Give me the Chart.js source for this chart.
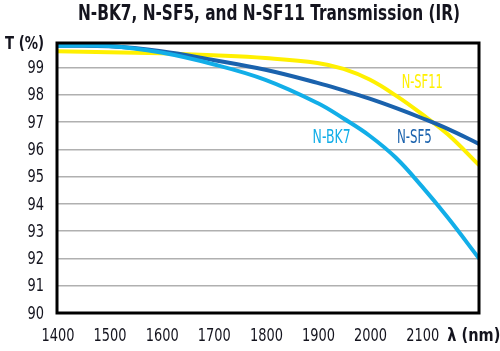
<!DOCTYPE html>
<html>
<head>
<meta charset="utf-8">
<script src="https://cdn.jsdelivr.net/npm/chart.js@4/dist/chart.umd.min.js"></script>
<style>
  html, body { margin: 0; padding: 0; background: #fff; }
  #wrap { width: 500px; height: 351px; }
</style>
</head>
<body>
<div id="wrap"><canvas id="irChart" width="500" height="351"></canvas></div>
<script>
// IR transmission curves of three Schott glasses

const WAVELENGTHS = [1400, 1500, 1600, 1700, 1800, 1900, 1950, 2000, 2050, 2100, 2150, 2210];
const NBK7  = [99.8, 99.79, 99.55, 99.12, 98.55, 97.7, 97.13, 96.5, 95.7, 94.65, 93.5, 92.0];
const NSF5  = [99.8, 99.78, 99.6, 99.28, 98.92, 98.44, 98.16, 97.86, 97.52, 97.15, 96.75, 96.2];
const NSF11 = [99.6, 99.56, 99.52, 99.45, 99.35, 99.17, 98.95, 98.56, 97.98, 97.3, 96.55, 95.42];

const X_TICKS = [1400, 1500, 1600, 1700, 1800, 1900, 2000, 2100, 2200];
const Y_TICKS = [90, 91, 92, 93, 94, 95, 96, 97, 98, 99];

const COLORS = {
  bk7:  "#12aee8",
  sf5:  "#1a62ad",
  sf11: "#fff000",
  text: "#14141e",
  grid: "#b0b0b0",
};

const FONT_FAMILY = "'DejaVu Sans Condensed', 'Liberation Sans', sans-serif";

// text helper: squeeze horizontally (the original uses a very condensed face)
// fit = target width in px, or a scale factor when < 2
function drawText(ctx, text, x, y, font, color, fit, align) {
  ctx.save();
  ctx.font = font;
  ctx.fillStyle = color;
  ctx.textBaseline = "middle";
  ctx.textAlign = "left";
  const w = ctx.measureText(text).width;
  const sx = !fit ? 1 : fit < 2 ? fit : fit / w;
  const left = align === "right" ? x - w * sx : align === "left" ? x : x - (w * sx) / 2;
  ctx.translate(left, y);
  ctx.scale(sx, 1);
  ctx.fillText(text, 0, 0);
  ctx.restore();
}

const decorations = {
  id: "decorations",
  afterDatasetsDraw(chart) {
    const { ctx, chartArea: a, scales } = chart;
    // frame
    ctx.save();
    ctx.strokeStyle = "#000";
    ctx.lineWidth = 3;
    ctx.strokeRect(a.left, a.top, a.right - a.left, a.bottom - a.top);
    ctx.restore();

    const px = v => scales.x.getPixelForValue(v);
    const py = v => scales.y.getPixelForValue(v);

    // series labels
    drawText(ctx, "N-SF11", px(2101), py(98.42), `19px ${FONT_FAMILY}`, COLORS.sf11, 41);
    drawText(ctx, "N-BK7",  px(1927), py(96.4),  `19px ${FONT_FAMILY}`, COLORS.bk7, 38);
    drawText(ctx, "N-SF5",  px(2086), py(96.4),  `19px ${FONT_FAMILY}`, COLORS.sf5, 35);

    // tick labels, condensed, placed from the scales
    scales.y.ticks.forEach(t => {
      drawText(ctx, String(t.value), a.left - 13, py(t.value) + 1,
        `18px ${FONT_FAMILY}`, COLORS.text, 0.8, "right");
    });
    scales.x.ticks.forEach(t => {
      if (t.value === 2200) {
        drawText(ctx, "λ (nm)", px(t.value), a.bottom + 23,
          `bold 18px ${FONT_FAMILY}`, COLORS.text, 53);
      } else {
        drawText(ctx, String(t.value), px(t.value) + 1, a.bottom + 23,
          `18px ${FONT_FAMILY}`, COLORS.text, 0.8);
      }
    });
  },
  afterDraw(chart) {
    const { ctx } = chart;
    drawText(ctx, "N-BK7, N-SF5, and N-SF11 Transmission (IR)", 269, 15,
      `bold 21px ${FONT_FAMILY}`, COLORS.text, 382);
    drawText(ctx, "T (%)", 44, 44, `bold 18px ${FONT_FAMILY}`, COLORS.text, 39, "right");
  },
};

const toPoints = ys => WAVELENGTHS.map((x, i) => ({ x, y: ys[i] }));

const lineStyle = color => ({
  borderColor: color,
  backgroundColor: color,
  borderWidth: 4,
  pointRadius: 0,
  fill: false,
  tension: 0.4,
});

new Chart(document.getElementById("irChart").getContext("2d"), {
  type: "line",
  data: {
    datasets: [
      { label: "N-BK7",  data: toPoints(NBK7),  order: 0, ...lineStyle(COLORS.bk7) },
      { label: "N-SF5",  data: toPoints(NSF5),  order: 1, ...lineStyle(COLORS.sf5) },
      { label: "N-SF11", data: toPoints(NSF11), order: 2, ...lineStyle(COLORS.sf11) },
    ],
  },
  options: {
    responsive: false,
    animation: false,
    layout: { padding: { top: 43, right: 21, left: 0, bottom: 0 } },
    plugins: {
      legend: { display: false },
      title: { display: false },
      tooltip: { enabled: false },
    },
    scales: {
      x: {
        type: "linear",
        min: 1400,
        max: 2210,
        afterBuildTicks: s => { s.ticks = X_TICKS.map(v => ({ value: v })); },
        afterFit: s => { s.height = 38; s.paddingLeft = 0; s.paddingRight = 0; },
        grid: { display: false, drawTicks: false },
        border: { display: false },
        ticks: { display: false },
      },
      y: {
        min: 90,
        max: 99.9,
        afterBuildTicks: s => { s.ticks = Y_TICKS.map(v => ({ value: v })); },
        afterFit: s => { s.width = 57; s.paddingTop = 0; s.paddingBottom = 0; },
        grid: { color: COLORS.grid, lineWidth: 1.5, drawTicks: false },
        border: { display: false },
        ticks: { display: false },
      },
    },
  },
  plugins: [decorations],
});
</script>
</body>
</html>
